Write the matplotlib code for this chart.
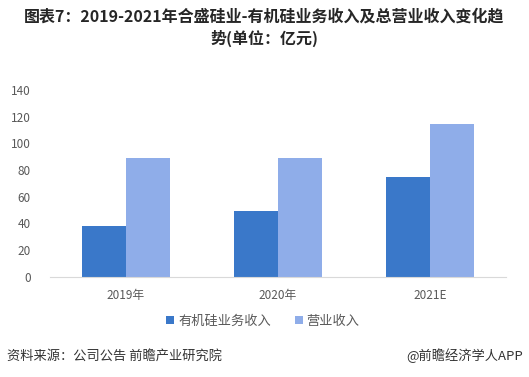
import matplotlib
matplotlib.use('Agg')
import matplotlib.pyplot as plt
import numpy as np

plt.rcParams['font.family'] = ['Noto Sans CJK SC', 'DejaVu Sans']

# 数据
categories = ['2019年', '2020年', '2021E']
organosilicon = [38, 49, 75]
revenue = [89, 89, 114.5]
series_names = ['有机硅业务收入', '营业收入']
yticks = [0, 20, 40, 60, 80, 100, 120, 140]

color_dark = '#3A78C9'
color_light = '#8FADE9'

fig = plt.figure(figsize=(5.29, 3.77), dpi=100)
ax = fig.add_axes([50 / 529, 1 - 276.7 / 377, 456 / 529, 186.7 / 377])

x = np.arange(len(categories))
w = 0.29
ax.bar(x - w / 2, organosilicon, width=w, color=color_dark, label=series_names[0])
ax.bar(x + w / 2, revenue, width=w, color=color_light, label=series_names[1])

ax.set_xlim(-0.5, len(categories) - 0.5)
ax.set_ylim(0, 140)
ax.set_yticks(yticks)
ax.set_xticks(x)
ax.set_xticklabels(categories)
ax.tick_params(axis='both', length=0, labelsize=8.5, colors='#595959')
ax.tick_params(axis='y', pad=14)
ax.tick_params(axis='x', pad=9)

for s in ['top', 'right', 'left']:
    ax.spines[s].set_visible(False)
ax.spines['bottom'].set_color('#D9D9D9')

# 图例
leg = fig.legend(loc='center', bbox_to_anchor=(263 / 529, 1 - 321 / 377), ncol=2,
                 frameon=False, fontsize=9.5, handlelength=0.6, handleheight=0.6,
                 handletextpad=0.3, columnspacing=1.8)
for t in leg.get_texts():
    t.set_color('#595959')

# 标题
fig.text(0.5, 1 - 17 / 377, '图表7：2019-2021年合盛硅业-有机硅业务收入及总营业收入变化趋',
         ha='center', va='center', fontsize=11.5, fontweight='bold', color='#262626')
fig.text(0.5, 1 - 38 / 377, '势(单位：亿元)',
         ha='center', va='center', fontsize=11.5, fontweight='bold', color='#262626')

# 脚注
fig.text(7 / 529, 1 - 356 / 377, '资料来源：公司公告 前瞻产业研究院',
         ha='left', va='center', fontsize=9.5, color='#333333')
fig.text(523 / 529, 1 - 356 / 377, '@前瞻经济学人APP',
         ha='right', va='center', fontsize=9.5, color='#333333')

fig.savefig('out.png', dpi=100)
